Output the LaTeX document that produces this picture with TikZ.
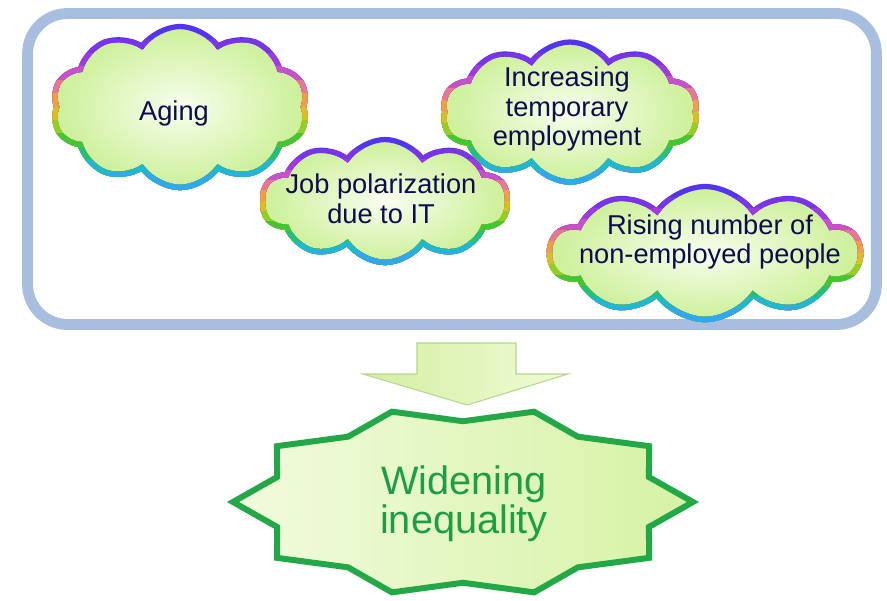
\documentclass[tikz,border=0pt]{standalone}
\usepackage{fontspec}
\setmainfont{Liberation Sans}
\usepackage{xcolor}
\definecolor{FrameCol}{RGB}{168,190,222}
\definecolor{CloudIn}{RGB}{248,254,238}
\definecolor{CloudOut}{RGB}{204,240,152}
\definecolor{TextCol}{RGB}{12,12,78}
\definecolor{BurstCol}{RGB}{34,168,70}
\definecolor{BurstText}{RGB}{30,158,68}
\definecolor{BurstL}{RGB}{241,251,222}
\definecolor{BurstR}{RGB}{214,242,164}
\definecolor{ArrowL}{RGB}{212,238,162}
\definecolor{ArrowR}{RGB}{240,251,214}
\definecolor{ArrowLine}{RGB}{182,214,140}
% rim colours, top to bottom
\definecolor{Rim0}{RGB}{84,52,236}
\definecolor{Rim1}{RGB}{122,52,232}
\definecolor{Rim2}{RGB}{160,58,224}
\definecolor{Rim3}{RGB}{200,80,200}
\definecolor{Rim4}{RGB}{232,120,144}
\definecolor{Rim5}{RGB}{240,160,64}
\definecolor{Rim6}{RGB}{216,192,32}
\definecolor{Rim7}{RGB}{144,208,32}
\definecolor{Rim8}{RGB}{64,200,48}
\definecolor{Rim9}{RGB}{32,192,128}
\definecolor{Rim10}{RGB}{32,184,208}
\definecolor{Rim11}{RGB}{48,168,240}
\usepackage{tikz}
\usetikzlibrary{shapes}
\usetikzlibrary{calc}
\tikzstyle{Frame}=[rectangle,draw=FrameCol,line width=6.2pt,
rounded corners=0.8cm,inner sep=0pt]
\tikzstyle{Cloud}=[cloud,cloud puffs=10,cloud puff arc=110,
cloud ignores aspect,inner sep=0pt]
\tikzstyle{CloudFill}=[Cloud,inner color=CloudIn,outer color=CloudOut]
\tikzstyle{CloudRim}=[Cloud,line width=3pt]
\tikzstyle{CloudST}=[align=center,text=TextCol,
font=\fontsize{15.5}{17}\selectfont]
\tikzstyle{Burst}=[draw=BurstCol,line width=3.4pt,left color=BurstL,
right color=BurstR]
\tikzstyle{BurstST}=[align=center,text=BurstText,
font=\fontsize{22.6}{21}\selectfont]
\tikzstyle{Arrow}=[draw=ArrowLine,line width=0.6pt,left color=ArrowL,
right color=ArrowR]
% cloud filled, then its rim drawn band by band
\newcommand{\RainbowCloud}[4]{%
  \node[CloudFill,minimum width=#3,minimum height=#4](#1)at(#2){};
  \foreach \band in {0,...,11}{%
    \begin{scope}
      \colorlet{RimNow}{Rim\band}
      \pgfmathsetmacro\bandtop{\band==0 ? -0.3 : \band/12}
      \path($(#1.north)!\bandtop!(#1.south)$)coordinate(#1band);
      \clip($(#1.west|-#1band)+(-5mm,0)$)rectangle
        ($(#1.east|-#1.south)+(5mm,-5mm)$);
      \node[CloudRim,draw=RimNow,minimum width=#3,minimum height=#4]
        (#1rim\band)at(#2){};
    \end{scope}}}

\begin{document}
\begin{tikzpicture}[x=0.02cm,y=-0.02cm]
        \useasboundingbox(0,0)rectangle(887,600);
        \node[Frame,minimum width=16.98cm,minimum height=6.22cm](box)
            at(452,169){};
        \RainbowCloud{aging}{180,107}{5.1cm}{3.22cm}
        \node[CloudST](agingtext)at(174,113){Aging};
        \RainbowCloud{polar}{385,201}{4.92cm}{2.46cm}
        \node[CloudST](polartext)at(381,199){Job polarization\\due to IT};
        \RainbowCloud{temp}{570,112}{5.1cm}{2.8cm}
        \node[CloudST](temptext)at(567,109)
            {Increasing\\temporary\\employment};
        \RainbowCloud{nonemp}{705,253}{6.2cm}{2.66cm}
        \node[CloudST](nonemptext)at(710,242)
            {Rising number of\\non-employed people};
        \draw[Arrow](417,343)--(516,343)--(516,374)--(568,374)
            --(467,405)--(363,374)--(417,374)--cycle;
        \draw[Burst,shift={(463,502)}](0:230 and 95)
            \foreach \a in {18,36,...,342}
            {--(\a:{230*(1-0.15*mod(\a/18,2))} and {95*(1-0.15*mod(\a/18,2))})}
            --cycle;
        \node[BurstST](widen)at(464,504){Widening\\inequality};
    \end{tikzpicture}
\end{document}
